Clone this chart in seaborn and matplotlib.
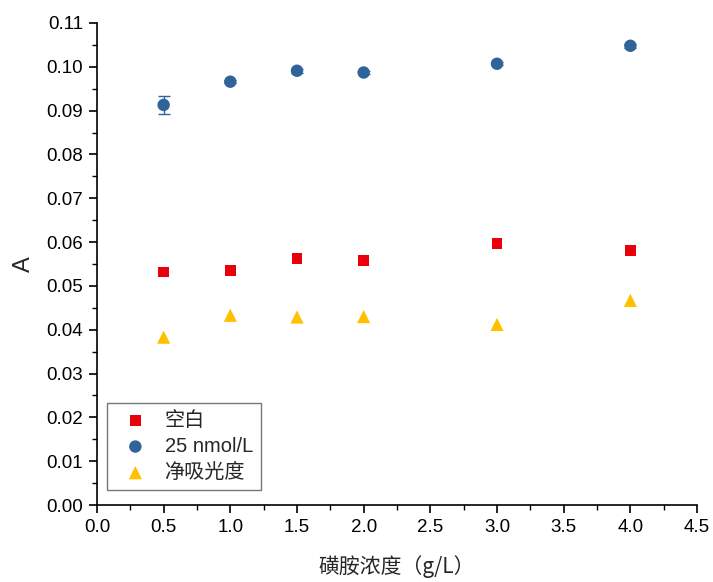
import matplotlib
matplotlib.use("Agg")
import matplotlib.pyplot as plt
from matplotlib.ticker import MultipleLocator, FormatStrFormatter
import seaborn as sns
import pandas as pd

# Sulfonamide concentration (g/L)
conc = [0.5, 1.0, 1.5, 2.0, 3.0, 4.0]
# Absorbance readings
blank = [0.0532, 0.0535, 0.0563, 0.0558, 0.0596, 0.0580]
sample_25 = [0.0913, 0.0966, 0.0991, 0.0987, 0.1007, 0.1048]
sample_25_err = [0.0020, 0.0004, 0.0004, 0.0004, 0.0004, 0.0004]
net_abs = [0.0383, 0.0433, 0.0429, 0.0430, 0.0412, 0.0467]

series_names = ["空白", "25 nmol/L", "净吸光度"]
series_colors = ["#E8000B", "#2F6399", "#FFC000"]
series_markers = ["s", "o", "^"]
series_sizes = [60, 80, 90]

sns.set_theme(style="white")
plt.rcParams["font.family"] = ["Liberation Sans", "Noto Sans CJK SC", "DejaVu Sans"]

df = pd.DataFrame({
    "conc": conc * 3,
    "A": blank + sample_25 + net_abs,
    "series": [series_names[0]] * 6 + [series_names[1]] * 6 + [series_names[2]] * 6,
})

fig = plt.figure(figsize=(7.13, 5.82), dpi=100)
ax = fig.add_axes([0.136, 0.1323, 0.8416, 0.8282])

ax.errorbar(conc, sample_25, yerr=sample_25_err, fmt="none",
            ecolor=series_colors[1], elinewidth=1.0, capsize=4, capthick=1.0, zorder=1)

for name, color, marker, size in zip(series_names, series_colors, series_markers, series_sizes):
    sub = df[df["series"] == name]
    sns.scatterplot(data=sub, x="conc", y="A", color=color, marker=marker, s=size,
                    edgecolor="none", linewidth=0, label=name, ax=ax, zorder=3)

ax.set_xlim(0.0, 4.5)
ax.set_ylim(0.0, 0.11)
ax.xaxis.set_major_locator(MultipleLocator(0.5))
ax.xaxis.set_minor_locator(MultipleLocator(0.25))
ax.yaxis.set_major_locator(MultipleLocator(0.01))
ax.yaxis.set_minor_locator(MultipleLocator(0.005))
ax.xaxis.set_major_formatter(FormatStrFormatter("%.1f"))
ax.yaxis.set_major_formatter(FormatStrFormatter("%.2f"))

for side in ["top", "right"]:
    ax.spines[side].set_visible(False)
for side in ["left", "bottom"]:
    ax.spines[side].set_color("black")
    ax.spines[side].set_linewidth(1.2)

ax.tick_params(which="major", direction="out", length=6, width=1.2, colors="black",
               labelsize=13.5, left=True, bottom=True, pad=4)
ax.tick_params(which="minor", direction="out", length=3.5, width=1.0, colors="black",
               left=True, bottom=True)

ax.set_xlabel("磺胺浓度（g/L）", fontsize=15, family=["Noto Sans CJK SC", "DejaVu Sans"], labelpad=14)
ax.set_ylabel("A", fontsize=17, labelpad=8)

leg = ax.legend(loc="lower left", bbox_to_anchor=(0.017, 0.031), borderaxespad=0,
                frameon=True, fancybox=False,
                handlelength=2.0, handletextpad=0.45, borderpad=0.4, labelspacing=0.35,
                prop={"family": ["Liberation Sans", "Noto Sans CJK SC", "DejaVu Sans"], "size": 14.5})
leg.get_frame().set_edgecolor("#555555")
leg.get_frame().set_linewidth(1.0)

fig.savefig("out.png", dpi=100)
